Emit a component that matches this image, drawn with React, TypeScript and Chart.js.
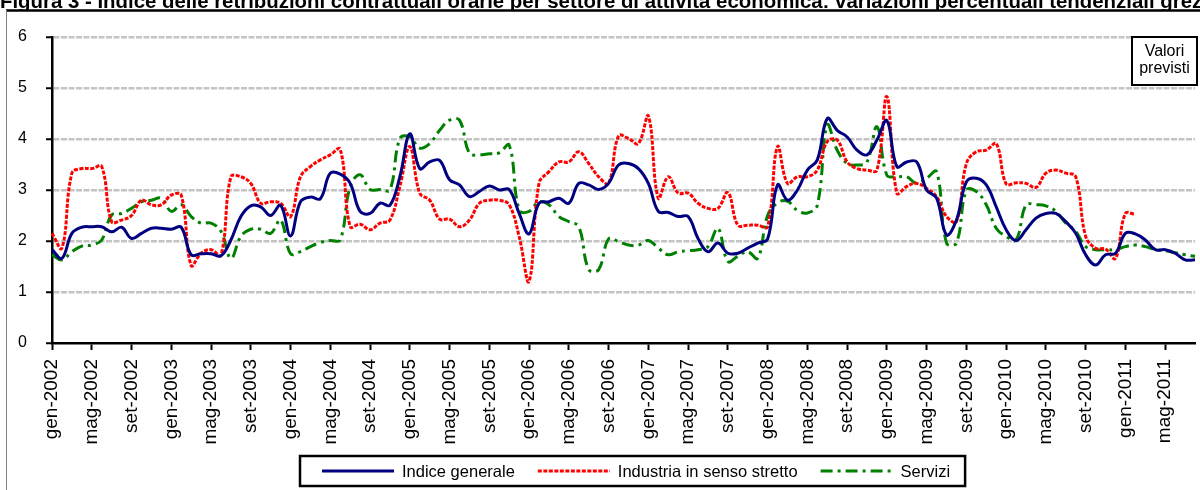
import React, { useEffect, useRef } from 'react';
import { Chart, registerables } from 'chart.js';

Chart.register(...registerables);

const MONTH_NAMES = ['gen', 'feb', 'mar', 'apr', 'mag', 'giu', 'lug', 'ago', 'set', 'ott', 'nov', 'dic'];
const YEARS = [2002, 2003, 2004, 2005, 2006, 2007, 2008, 2009, 2010, 2011];
const LAST_MONTH_COUNT_2011 = 8; // gen-2011 ... ago-2011

const categories: string[] = [];
YEARS.forEach((y) => {
  const n = y === 2011 ? LAST_MONTH_COUNT_2011 : 12;
  for (let m = 0; m < n; m++) categories.push(`${MONTH_NAMES[m]}-${y}`);
});

const TITLE =
  'Figura 3 - Indice delle retribuzioni contrattuali orarie per settore di attività economica: variazioni percentuali tendenziali grezze';

const Y_TICKS = [0, 1, 2, 3, 4, 5, 6];

const indiceGenerale = [
  1.83, 1.66, 2.15, 2.27, 2.28, 2.28, 2.18, 2.27, 2.05, 2.15, 2.25, 2.25,
  2.23, 2.27, 1.73, 1.75, 1.75, 1.71, 2.02, 2.48, 2.69, 2.67, 2.5, 2.7,
  2.1, 2.77, 2.86, 2.83, 3.33, 3.31, 3.13, 2.58, 2.54, 2.74, 2.7, 3.26,
  4.1, 3.42, 3.55, 3.58, 3.2, 3.1, 2.87, 2.97, 3.08, 3.0, 3.01, 2.54,
  2.14, 2.74, 2.77, 2.84, 2.74, 3.13, 3.1, 3.01, 3.13, 3.49, 3.52, 3.42,
  3.13, 2.58, 2.56, 2.48, 2.48, 2.05, 1.79, 1.96, 1.76, 1.76, 1.86, 1.96,
  2.04, 3.1, 2.8, 3.0, 3.39, 3.59, 4.4, 4.17, 4.04, 3.78, 3.69, 3.98,
  4.36, 3.46, 3.55, 3.55, 3.0, 2.84, 2.12, 2.41, 3.16, 3.23, 3.1, 2.67,
  2.22, 2.01, 2.22, 2.45, 2.54, 2.54, 2.38, 2.15, 1.73, 1.53, 1.73, 1.76,
  2.15, 2.14, 2.02, 1.83, 1.83, 1.76, 1.63, 1.63,
];

const industria = [
  2.15, 1.86, 3.33, 3.42, 3.42, 3.46, 2.38, 2.41, 2.5, 2.8, 2.71, 2.71,
  2.9, 2.9, 1.52, 1.76, 1.83, 1.72, 3.26, 3.26, 3.13, 2.74, 2.77, 2.74,
  2.48, 3.26, 3.46, 3.59, 3.69, 3.8, 2.28, 2.33, 2.22, 2.35, 2.41, 3.07,
  3.85, 2.94, 2.8, 2.43, 2.43, 2.28, 2.41, 2.74, 2.8, 2.8, 2.71, 2.09,
  1.21, 3.13, 3.36, 3.55, 3.55, 3.75, 3.52, 3.26, 3.13, 4.06, 4.01, 3.91,
  4.45, 2.84, 3.26, 2.94, 2.94, 2.74, 2.64, 2.64, 2.95, 2.31, 2.31, 2.31,
  2.28, 3.85, 3.13, 3.26, 3.26, 3.39, 3.95, 3.98, 3.55, 3.42, 3.39, 3.39,
  4.83, 2.94, 3.07, 3.13, 3.03, 2.87, 2.48, 2.38, 3.52, 3.75, 3.78, 3.91,
  3.12, 3.14, 3.13, 3.05, 3.33, 3.39, 3.33, 3.26, 2.09, 1.86, 1.84, 1.66,
  2.54, 2.52, null, null, null, null, null, null,
];

const servizi = [
  1.73, 1.63, 1.79, 1.9, 1.92, 2.02, 2.51, 2.54, 2.64, 2.77, 2.8, 2.84,
  2.58, 2.71, 2.48, 2.35, 2.35, 2.19, 1.66, 2.09, 2.23, 2.23, 2.15, 2.41,
  1.75, 1.79, 1.89, 1.97, 2.01, 2.02, 3.07, 3.3, 3.01, 3.01, 3.0, 4.01,
  4.04, 3.82, 3.91, 4.17, 4.37, 4.37, 3.72, 3.69, 3.71, 3.73, 3.88, 2.61,
  2.58, 2.77, 2.71, 2.48, 2.38, 2.28, 1.44, 1.44, 2.04, 1.99, 1.92, 1.92,
  2.01, 1.86, 1.73, 1.79, 1.81, 1.83, 1.89, 2.25, 1.6, 1.7, 1.79, 1.66,
  2.5, 2.75, 2.78, 2.6, 2.55, 2.7, 4.27, 3.78, 3.52, 3.49, 3.55, 4.24,
  3.29, 3.26, 3.26, 3.13, 3.23, 3.36, 1.96, 1.96, 3.0, 2.97, 2.71, 2.25,
  2.09, 2.02, 2.71, 2.71, 2.69, 2.58, 2.35, 2.19, 1.89, 1.83, 1.83, 1.83,
  1.89, 1.92, 1.89, 1.83, 1.81, 1.77, 1.73, 1.7,
];

const SERIES = [
  { label: 'Indice generale', data: indiceGenerale, color: '#000080', dash: [] as number[] },
  { label: 'Industria in senso stretto', data: industria, color: '#ff0000', dash: [4, 1.5] },
  { label: 'Servizi', data: servizi, color: '#008000', dash: [12, 5, 3, 5] },
];

const FONT = "'Liberation Sans', Arial, sans-serif";

const decorPlugin = {
  id: 'decor',
  beforeDraw(chart: any) {
    const ctx = chart.ctx;
    ctx.save();
    ctx.fillStyle = '#ffffff';
    ctx.fillRect(0, 0, chart.width, chart.height);
    // title (clipped at the top)
    ctx.fillStyle = '#000';
    ctx.font = `bold 20.4px ${FONT}`;
    ctx.textBaseline = 'alphabetic';
    ctx.textAlign = 'left';
    ctx.fillText(TITLE, 0, 7.5);
    // frame
    ctx.fillStyle = '#ffffff';
    ctx.fillRect(6, 10, chart.width, chart.height);
    ctx.strokeStyle = '#000';
    ctx.lineWidth = 2.5;
    ctx.beginPath();
    ctx.moveTo(6, 10.5);
    ctx.lineTo(chart.width, 10.5);
    ctx.stroke();
    ctx.strokeStyle = '#808080';
    ctx.lineWidth = 1;
    ctx.beginPath();
    ctx.moveTo(6.5, 10);
    ctx.lineTo(6.5, chart.height);
    ctx.stroke();
    ctx.restore();
  },
  afterDraw(chart: any) {
    const ctx = chart.ctx;
    ctx.save();
    // "Valori previsti" box
    const bx = 1132, by = 37, bw = 65, bh = 48;
    ctx.fillStyle = '#fff';
    ctx.fillRect(bx, by, bw, bh);
    ctx.strokeStyle = '#000';
    ctx.lineWidth = 2;
    ctx.strokeRect(bx, by, bw, bh);
    ctx.fillStyle = '#000';
    ctx.font = `16px ${FONT}`;
    ctx.textAlign = 'center';
    ctx.textBaseline = 'alphabetic';
    ctx.fillText('Valori', bx + bw / 2, by + 19);
    ctx.fillText('previsti', bx + bw / 2, by + 36);

    // legend
    const lx = 300, ly = 456, lh = 30;
    const sampleW = 72, gapText = 8, gapItem = 23, padL = 22, padR = 15;
    ctx.font = `16.5px ${FONT}`;
    let total = padL;
    SERIES.forEach((s, i) => {
      total += sampleW + gapText + ctx.measureText(s.label).width + (i < SERIES.length - 1 ? gapItem : 0);
    });
    total += padR;
    ctx.fillStyle = '#fff';
    ctx.fillRect(lx, ly, total, lh);
    ctx.strokeStyle = '#000';
    ctx.lineWidth = 2.5;
    ctx.strokeRect(lx, ly, total, lh);
    let cx = lx + padL;
    const cy = ly + lh / 2;
    SERIES.forEach((s) => {
      ctx.strokeStyle = s.color;
      ctx.lineWidth = 3;
      ctx.setLineDash(s.dash);
      ctx.beginPath();
      ctx.moveTo(cx, cy);
      ctx.lineTo(cx + sampleW, cy);
      ctx.stroke();
      ctx.setLineDash([]);
      cx += sampleW + gapText;
      ctx.fillStyle = '#000';
      ctx.textAlign = 'left';
      ctx.textBaseline = 'middle';
      ctx.fillText(s.label, cx, cy + 1);
      cx += ctx.measureText(s.label).width + gapItem;
    });
    ctx.restore();
  },
};

export default function App() {
  const ref = useRef<HTMLCanvasElement | null>(null);

  useEffect(() => {
    if (!ref.current) return;
    const chart = new Chart(ref.current, {
      type: 'line',
      data: {
        labels: categories,
        datasets: SERIES.map((s) => ({
          label: s.label,
          data: s.data,
          borderColor: s.color,
          backgroundColor: s.color,
          borderDash: s.dash,
          borderWidth: 3,
          pointRadius: 0,
          tension: 0.4,
          fill: false,
          spanGaps: false,
        })),
      },
      options: {
        responsive: false,
        animation: false,
        devicePixelRatio: 1,
        layout: { padding: { top: 37, right: 5, left: 0, bottom: 0 } },
        plugins: {
          legend: { display: false },
          title: { display: false },
          tooltip: { enabled: false },
        },
        scales: {
          x: {
            type: 'category',
            offset: false,
            afterFit: (s: any) => {
              s.height = 147;
              s.paddingLeft = 0;
              s.paddingRight = 0;
            },
            grid: {
              display: true,
              drawOnChartArea: false,
              drawTicks: true,
              tickLength: 7,
              tickWidth: 2,
              offset: false,
              tickColor: (c: any) => (c.index % 4 === 0 ? '#000' : 'rgba(0,0,0,0)'),
            },
            border: { display: true, color: '#000', width: 2.5 },
            ticks: {
              autoSkip: false,
              minRotation: 90,
              maxRotation: 90,
              padding: 9,
              color: '#000',
              font: { family: FONT, size: 19 },
              callback: (_v: any, i: number) => (i % 4 === 0 ? categories[i] : ''),
            },
          },
          y: {
            min: 0,
            max: 6,
            afterFit: (s: any) => {
              s.width = 52;
            },
            afterBuildTicks: (s: any) => {
              s.ticks = Y_TICKS.map((v) => ({ value: v }));
            },
            grid: {
              color: (c: any) => (c.tick && c.tick.value === 0 ? 'rgba(0,0,0,0)' : '#c4c4c4'),
              lineWidth: 2.5,
              tickLength: 6,
              tickWidth: 2,
              tickColor: '#000',
            },
            border: { display: true, color: '#000', width: 2.5, dash: [6, 1.5] },
            ticks: {
              padding: 19,
              color: '#000',
              font: { family: FONT, size: 16 },
            },
          },
        },
      },
      plugins: [decorPlugin],
    });
    return () => chart.destroy();
  }, []);

  return (
    <div style={{ position: 'fixed', left: 0, top: 0, width: 1200, height: 490, overflow: 'hidden', background: '#fff' }}>
      <canvas ref={ref} width={1200} height={490} style={{ display: 'block', width: 1200, height: 490 }} />
    </div>
  );
}
